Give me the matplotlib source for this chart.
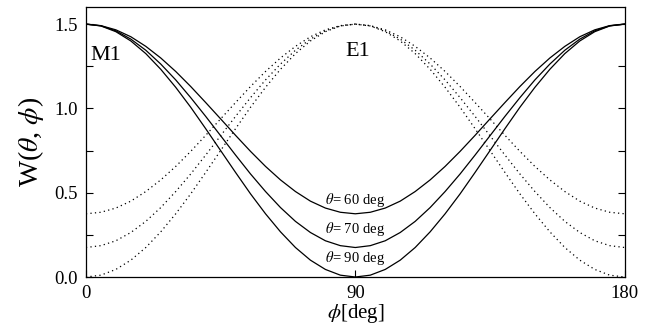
import matplotlib
matplotlib.use("Agg")
import matplotlib.pyplot as plt
from matplotlib.ticker import MultipleLocator

plt.rcParams["font.family"] = ["Liberation Serif", "DejaVu Serif"]
plt.rcParams["mathtext.fontset"] = "stix"

# phi [deg], sampled every 5 degrees
phi = list(range(0, 181, 5))

# M1 (solid) curves
m1_60 = [1.500, 1.491, 1.466, 1.425, 1.368, 1.299, 1.219, 1.130, 1.035, 0.938,
         0.840, 0.745, 0.656, 0.576, 0.507, 0.450, 0.409, 0.384, 0.375, 0.384,
         0.409, 0.450, 0.507, 0.576, 0.656, 0.745, 0.840, 0.938, 1.035, 1.130,
         1.219, 1.299, 1.368, 1.425, 1.466, 1.491, 1.500]
m1_70 = [1.500, 1.490, 1.460, 1.411, 1.345, 1.263, 1.169, 1.064, 0.953, 0.838,
         0.723, 0.611, 0.507, 0.412, 0.330, 0.264, 0.215, 0.186, 0.175, 0.186,
         0.215, 0.264, 0.330, 0.412, 0.507, 0.611, 0.723, 0.838, 0.953, 1.064,
         1.169, 1.263, 1.345, 1.411, 1.460, 1.490, 1.500]
m1_90 = [1.500, 1.489, 1.455, 1.400, 1.325, 1.232, 1.125, 1.007, 0.880, 0.750,
         0.620, 0.493, 0.375, 0.268, 0.175, 0.100, 0.045, 0.011, 0.000, 0.011,
         0.045, 0.100, 0.175, 0.268, 0.375, 0.493, 0.620, 0.750, 0.880, 1.007,
         1.125, 1.232, 1.325, 1.400, 1.455, 1.489, 1.500]

# E1 (dotted) curves
e1_60 = [0.375, 0.384, 0.409, 0.450, 0.507, 0.576, 0.656, 0.745, 0.840, 0.938,
         1.035, 1.130, 1.219, 1.299, 1.368, 1.425, 1.466, 1.491, 1.500, 1.491,
         1.466, 1.425, 1.368, 1.299, 1.219, 1.130, 1.035, 0.938, 0.840, 0.745,
         0.656, 0.576, 0.507, 0.450, 0.409, 0.384, 0.375]
e1_70 = [0.175, 0.186, 0.215, 0.264, 0.330, 0.412, 0.507, 0.611, 0.723, 0.838,
         0.953, 1.064, 1.169, 1.263, 1.345, 1.411, 1.460, 1.490, 1.500, 1.490,
         1.460, 1.411, 1.345, 1.263, 1.169, 1.064, 0.953, 0.838, 0.723, 0.611,
         0.507, 0.412, 0.330, 0.264, 0.215, 0.186, 0.175]
e1_90 = [0.000, 0.011, 0.045, 0.100, 0.175, 0.268, 0.375, 0.493, 0.620, 0.750,
         0.880, 1.007, 1.125, 1.232, 1.325, 1.400, 1.455, 1.489, 1.500, 1.489,
         1.455, 1.400, 1.325, 1.232, 1.125, 1.007, 0.880, 0.750, 0.620, 0.493,
         0.375, 0.268, 0.175, 0.100, 0.045, 0.011, 0.000]

theta_labels = [r"$\theta$= 60 deg", r"$\theta$= 70 deg", r"$\theta$= 90 deg"]
theta_label_y = [0.458, 0.285, 0.113]

fig = plt.figure(figsize=(6.51, 3.29), dpi=100)
ax = fig.add_axes([0.132, 0.158, 0.8276, 0.820])

for ys in (m1_60, m1_70, m1_90):
    ax.plot(phi, ys, color="black", lw=0.9, solid_joinstyle="round")
for ys in (e1_60, e1_70, e1_90):
    ax.plot(phi, ys, color="black", lw=0.9, linestyle=(0, (1, 2.6)))

for lab, y in zip(theta_labels, theta_label_y):
    ax.text(90, y, lab, ha="center", va="center", fontsize=10.5)

ax.text(1.4, 1.315, "M1", ha="left", va="center", fontsize=16)
ax.text(90.8, 1.34, "E1", ha="center", va="center", fontsize=16)

ax.set_xlim(0, 180)
ax.set_ylim(0, 1.6)
ax.set_xticks([0, 90, 180])
ax.yaxis.set_minor_locator(MultipleLocator(0.25))
ax.set_yticks([0, 0.5, 1.0, 1.5])
ax.set_yticklabels(["0.0", "0.5", "1.0", "1.5"])
ax.tick_params(axis="both", which="both", direction="in", labelsize=13.5,
               width=0.8, length=5, right=True, top=False)
ax.tick_params(axis="x", pad=6)
ax.tick_params(axis="y", pad=6)
for s in ax.spines.values():
    s.set_linewidth(0.9)

ax.set_xlabel(r"$\phi$[deg]", fontsize=15, labelpad=0)
ax.set_ylabel(r"W($\theta$, $\phi$)", fontsize=20, labelpad=6)

fig.savefig("out.png", dpi=100)
